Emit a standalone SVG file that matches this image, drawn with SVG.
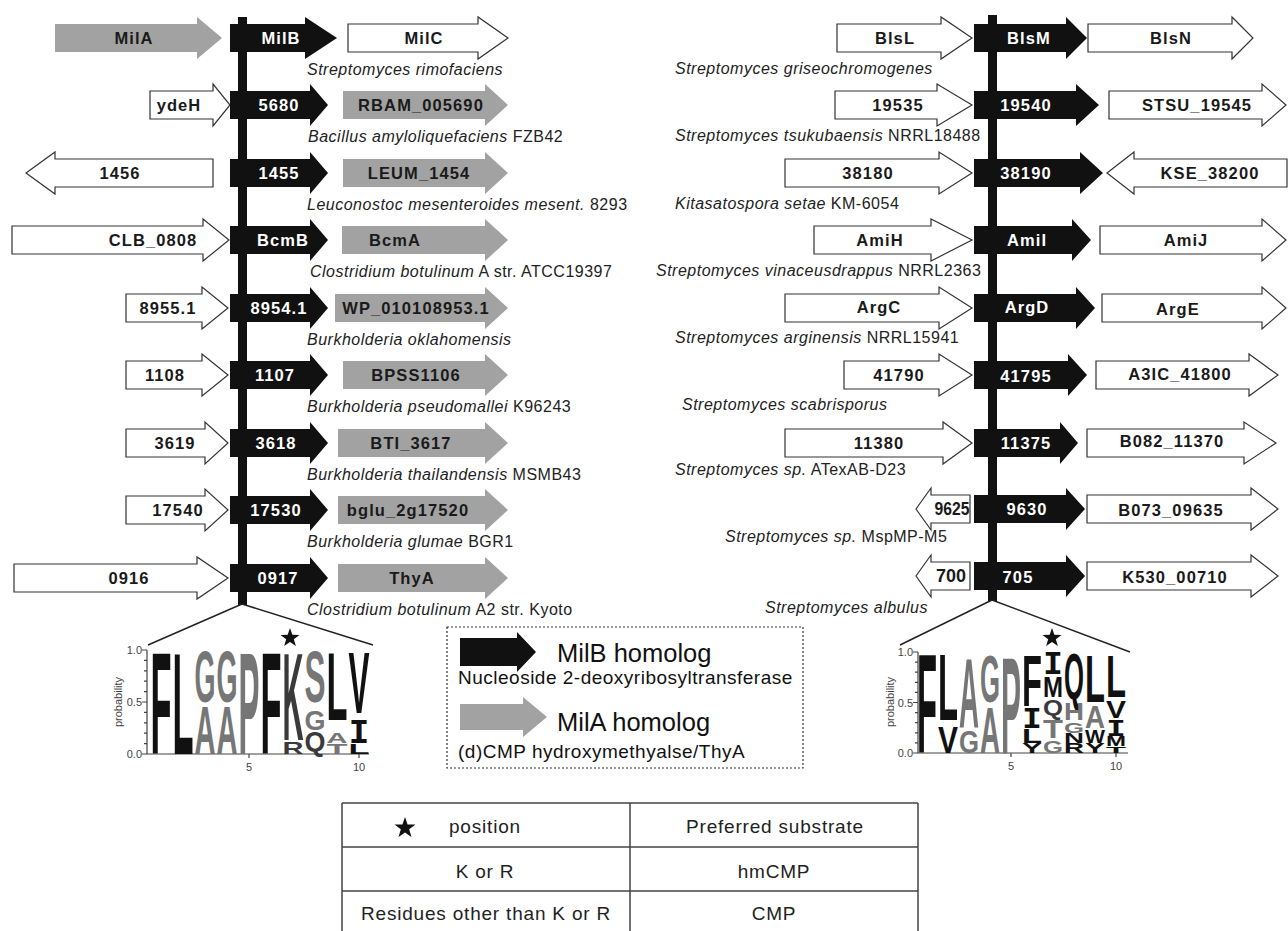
<svg xmlns="http://www.w3.org/2000/svg" width="1288" height="931" viewBox="0 0 1288 931">
<style>
.bk{fill:#111}
.gy{fill:#a2a2a2}
.wh{fill:#fff;stroke:#333;stroke-width:1.2}
.gt{font-family:"Liberation Sans",Arial,sans-serif;font-weight:bold;font-size:16.5px;letter-spacing:1.1px;text-anchor:middle;fill:#1a1a1a}
.gt.w{fill:#fff}
.gt.s{font-size:18px;letter-spacing:0}
.sp{font-family:"Liberation Sans",Arial,sans-serif;font-size:16px;letter-spacing:0.5px;fill:#222}
.it{font-style:italic}
.lg{font-family:"Liberation Sans",Arial,sans-serif;font-weight:bold;text-anchor:middle}
.mono{font-family:"DejaVu Sans Mono",monospace;font-weight:bold;text-anchor:middle}
.k{fill:#111}.g{fill:#767676}.d{fill:#3a3a3a}
.ax{stroke:#444;stroke-width:1.2;fill:none}
.al{font-family:"Liberation Sans",Arial,sans-serif;font-size:11px;fill:#444}
.lt{font-family:"Liberation Sans",Arial,sans-serif;fill:#111}
.tb{font-family:"Liberation Sans",Arial,sans-serif;font-size:19px;letter-spacing:0.8px;fill:#222;text-anchor:middle}
.tb.st{text-anchor:start}
.tl{stroke:#444;stroke-width:1.5}
.cn{stroke:#222;stroke-width:1.5;fill:none}
</style>
<defs>
<polygon id="star" points="0,-1 0.235,-0.324 0.951,-0.309 0.380,0.124 0.588,0.809 0,0.4 -0.588,0.809 -0.380,0.124 -0.951,-0.309 -0.235,-0.324"/>
</defs>
<rect width="1288" height="931" fill="#fff"/>

<g id="connectors">
<rect x="238" y="17" width="9" height="588" class="bk"/>
<rect x="988" y="15" width="9" height="586" class="bk"/>
<path class="cn" d="M242,604 L148,645 M242,604 L373,645"/>
<path class="cn" d="M992,600 L900,645 M992,600 L1130,652"/>
</g>

<!-- LEFT COLUMN -->
<g id="row-l1">
<path class="gy" d="M55,24 H197 V17 L222,38 L197,59 V52 H55 Z"/>
<text class="gt" x="134" y="44">MilA</text>
<path class="bk" d="M230,24 H305 V17 L337,38 L305,59 V52 H230 Z"/>
<text class="gt w" x="281" y="44">MilB</text>
<path class="wh" d="M348,24 H478 V17 L508,38 L478,59 V52 H348 Z"/>
<text class="gt" x="424" y="44">MilC</text>
<text class="sp it" x="307" y="75">Streptomyces rimofaciens</text>
</g>
<g id="row-l2">
<path class="wh" d="M150,91 H213 V84 L230,105 L213,126 V119 H150 Z"/>
<text class="gt" x="179" y="111">ydeH</text>
<path class="bk" d="M230,91 H310 V84 L328,105 L310,126 V119 H230 Z"/>
<text class="gt w" x="279" y="111">5680</text>
<path class="gy" d="M343,91 H485 V84 L508,105 L485,126 V119 H343 Z"/>
<text class="gt" x="421" y="111">RBAM_005690</text>
<text class="sp" x="308" y="142"><tspan class="it">Bacillus amyloliquefaciens</tspan> FZB42</text>
</g>
<g id="row-l3">
<path class="wh" d="M213,159 H55 V152 L26,173 L55,194 V187 H213 Z"/>
<text class="gt" x="120" y="179">1456</text>
<path class="bk" d="M230,159 H310 V152 L328,173 L310,194 V187 H230 Z"/>
<text class="gt w" x="279" y="179">1455</text>
<path class="gy" d="M343,159 H485 V152 L508,173 L485,194 V187 H343 Z"/>
<text class="gt" x="419" y="179">LEUM_1454</text>
<text class="sp" x="307" y="210"><tspan class="it">Leuconostoc mesenteroides mesent.</tspan> 8293</text>
</g>
<g id="row-l4">
<path class="wh" d="M12,226 H203 V219 L229,240 L203,261 V254 H12 Z"/>
<text class="gt" x="153" y="246">CLB_0808</text>
<path class="bk" d="M230,226 H310 V219 L328,240 L310,261 V254 H230 Z"/>
<text class="gt w" x="283" y="246">BcmB</text>
<path class="gy" d="M342,226 H485 V219 L508,240 L485,261 V254 H342 Z"/>
<text class="gt" x="395" y="246">BcmA</text>
<text class="sp" x="310" y="277"><tspan class="it">Clostridium botulinum</tspan> A str. ATCC19397</text>
</g>
<g id="row-l5">
<path class="wh" d="M126,294 H202 V287 L228,308 L202,329 V322 H126 Z"/>
<text class="gt" x="168" y="314">8955.1</text>
<path class="bk" d="M230,294 H310 V287 L328,308 L310,329 V322 H230 Z"/>
<text class="gt w" x="279" y="314">8954.1</text>
<path class="gy" d="M335,294 H485 V287 L508,308 L485,329 V322 H335 Z"/>
<text class="gt" x="416" y="314">WP_010108953.1</text>
<text class="sp it" x="307" y="345">Burkholderia oklahomensis</text>
</g>
<g id="row-l6">
<path class="wh" d="M126,361 H202 V354 L228,375 L202,396 V389 H126 Z"/>
<text class="gt" x="165" y="381">1108</text>
<path class="bk" d="M230,361 H310 V354 L328,375 L310,396 V389 H230 Z"/>
<text class="gt w" x="275" y="381">1107</text>
<path class="gy" d="M343,361 H485 V354 L508,375 L485,396 V389 H343 Z"/>
<text class="gt" x="416" y="381">BPSS1106</text>
<text class="sp" x="307" y="412"><tspan class="it">Burkholderia pseudomallei</tspan> K96243</text>
</g>
<g id="row-l7">
<path class="wh" d="M126,429 H205 V422 L228,443 L205,464 V457 H126 Z"/>
<text class="gt" x="175" y="449">3619</text>
<path class="bk" d="M230,429 H310 V422 L328,443 L310,464 V457 H230 Z"/>
<text class="gt w" x="276" y="449">3618</text>
<path class="gy" d="M338,429 H485 V422 L508,443 L485,464 V457 H338 Z"/>
<text class="gt" x="411" y="449">BTI_3617</text>
<text class="sp" x="307" y="480"><tspan class="it">Burkholderia thailandensis</tspan> MSMB43</text>
</g>
<g id="row-l8">
<path class="wh" d="M126,496 H205 V489 L228,510 L205,531 V524 H126 Z"/>
<text class="gt" x="178" y="516">17540</text>
<path class="bk" d="M230,496 H310 V489 L328,510 L310,531 V524 H230 Z"/>
<text class="gt w" x="276" y="516">17530</text>
<path class="gy" d="M338,496 H485 V489 L508,510 L485,531 V524 H338 Z"/>
<text class="gt" x="408" y="516">bglu_2g17520</text>
<text class="sp" x="307" y="547"><tspan class="it">Burkholderia glumae</tspan> BGR1</text>
</g>
<g id="row-l9">
<path class="wh" d="M14,564 H197 V557 L228,578 L197,599 V592 H14 Z"/>
<text class="gt" x="129" y="584">0916</text>
<path class="bk" d="M230,564 H310 V557 L328,578 L310,599 V592 H230 Z"/>
<text class="gt w" x="278" y="584">0917</text>
<path class="gy" d="M338,564 H485 V557 L508,578 L485,599 V592 H338 Z"/>
<text class="gt" x="412" y="584">ThyA</text>
<text class="sp" x="307" y="615"><tspan class="it">Clostridium botulinum</tspan> A2 str. Kyoto</text>
</g>

<!-- RIGHT COLUMN -->
<g id="row-r1">
<path class="wh" d="M837,24 H941 V17 L972,38 L941,59 V52 H837 Z"/>
<text class="gt" x="895" y="44">BlsL</text>
<path class="bk" d="M974,24 H1066 V17 L1087,38 L1066,59 V52 H974 Z"/>
<text class="gt w" x="1029" y="44">BlsM</text>
<path class="wh" d="M1088,24 H1232 V17 L1253,38 L1232,59 V52 H1088 Z"/>
<text class="gt" x="1171" y="44">BlsN</text>
<text class="sp it" x="675" y="74">Streptomyces griseochromogenes</text>
</g>
<g id="row-r2">
<path class="wh" d="M835,91 H937 V84 L972,105 L937,126 V119 H835 Z"/>
<text class="gt" x="898" y="111">19535</text>
<path class="bk" d="M974,91 H1076 V84 L1099,105 L1076,126 V119 H974 Z"/>
<text class="gt w" x="1026" y="111">19540</text>
<path class="wh" d="M1109,91 H1262 V84 L1286,105 L1262,126 V119 H1109 Z"/>
<text class="gt" x="1197" y="111">STSU_19545</text>
<text class="sp" x="675" y="141"><tspan class="it">Streptomyces tsukubaensis</tspan> NRRL18488</text>
</g>
<g id="row-r3">
<path class="wh" d="M785,159 H939 V152 L972,173 L939,194 V187 H785 Z"/>
<text class="gt" x="868" y="179">38180</text>
<path class="bk" d="M974,159 H1080 V152 L1103,173 L1080,194 V187 H974 Z"/>
<text class="gt w" x="1026" y="179">38190</text>
<path class="wh" d="M1287,159 H1134 V152 L1107,173 L1134,194 V187 H1287 Z"/>
<text class="gt" x="1210" y="179">KSE_38200</text>
<text class="sp" x="675" y="209"><tspan class="it">Kitasatospora setae</tspan> KM-6054</text>
</g>
<g id="row-r4">
<path class="wh" d="M814,226 H931 V219 L972,240 L931,261 V254 H814 Z"/>
<text class="gt" x="880" y="246">AmiH</text>
<path class="bk" d="M974,226 H1072 V219 L1091,240 L1072,261 V254 H974 Z"/>
<text class="gt w" x="1027" y="246">AmiI</text>
<path class="wh" d="M1100,226 H1262 V219 L1286,240 L1262,261 V254 H1100 Z"/>
<text class="gt" x="1186" y="246">AmiJ</text>
<text class="sp" x="656" y="276"><tspan class="it">Streptomyces vinaceusdrappus</tspan> NRRL2363</text>
</g>
<g id="row-r5">
<path class="wh" d="M785,294 H939 V287 L972,308 L939,329 V322 H785 Z"/>
<text class="gt" x="879" y="313">ArgC</text>
<path class="bk" d="M974,294 H1076 V287 L1095,308 L1076,329 V322 H974 Z"/>
<text class="gt w" x="1027" y="313">ArgD</text>
<path class="wh" d="M1102,294 H1262 V287 L1286,308 L1262,329 V322 H1102 Z"/>
<text class="gt" x="1178" y="315">ArgE</text>
<text class="sp" x="675" y="343"><tspan class="it">Streptomyces arginensis</tspan> NRRL15941</text>
</g>
<g id="row-r6">
<path class="wh" d="M844,361 H939 V354 L972,375 L939,396 V389 H844 Z"/>
<text class="gt" x="899" y="381">41790</text>
<path class="bk" d="M974,361 H1068 V354 L1087,375 L1068,396 V389 H974 Z"/>
<text class="gt w" x="1026" y="382">41795</text>
<path class="wh" d="M1096,361 H1249 V354 L1278,375 L1249,396 V389 H1096 Z"/>
<text class="gt" x="1180" y="380">A3IC_41800</text>
<text class="sp it" x="682" y="410">Streptomyces scabrisporus</text>
</g>
<g id="row-r7">
<path class="wh" d="M785,429 H943 V422 L972,443 L943,464 V457 H785 Z"/>
<text class="gt" x="879" y="449">11380</text>
<path class="bk" d="M974,429 H1060 V422 L1078,443 L1060,464 V457 H974 Z"/>
<text class="gt w" x="1026" y="449">11375</text>
<path class="wh" d="M1087,429 H1244 V422 L1276,443 L1244,464 V457 H1087 Z"/>
<text class="gt" x="1172" y="447">B082_11370</text>
<text class="sp" x="675" y="475"><tspan class="it">Streptomyces sp.</tspan> ATexAB-D23</text>
</g>
<g id="row-r8">
<path class="wh" d="M970,495 H931 V488 L916,509 L931,530 V523 H970 Z"/>
<text class="gt s" x="952" y="515" textLength="35" lengthAdjust="spacingAndGlyphs">9625</text>
<path class="bk" d="M974,495 H1066 V488 L1085,509 L1066,530 V523 H974 Z"/>
<text class="gt w" x="1027" y="515">9630</text>
<path class="wh" d="M1087,495 H1251 V488 L1278,509 L1251,530 V523 H1087 Z"/>
<text class="gt" x="1171" y="516">B073_09635</text>
<text class="sp" x="725" y="542"><tspan class="it">Streptomyces sp.</tspan> MspMP-M5</text>
</g>
<g id="row-r9">
<path class="wh" d="M970,562 H931 V555 L916,576 L931,597 V590 H970 Z"/>
<text class="gt s" x="951" y="582" textLength="30" lengthAdjust="spacingAndGlyphs">700</text>
<path class="bk" d="M974,562 H1066 V555 L1085,576 L1066,597 V590 H974 Z"/>
<text class="gt w" x="1018" y="583">705</text>
<path class="wh" d="M1087,562 H1251 V555 L1278,576 L1251,597 V590 H1087 Z"/>
<text class="gt" x="1175" y="583">K530_00710</text>
<text class="sp it" x="765" y="613">Streptomyces albulus</text>
</g>

<!-- LEFT LOGO -->
<g id="logo-left">
<path class="ax" d="M147,650 V754 H369"/>
<path class="ax" d="M142,650 H147 M144,660.4 H147 M144,670.8 H147 M144,681.2 H147 M144,691.6 H147 M142,702 H147 M144,712.4 H147 M144,722.8 H147 M144,733.2 H147 M144,743.6 H147 M142,754 H147 M249,754 V758 M359,754 V758"/>
<text class="al" x="142" y="654" text-anchor="end">1.0</text>
<text class="al" x="142" y="706" text-anchor="end">0.5</text>
<text class="al" x="142" y="758" text-anchor="end">0.0</text>
<text class="al" x="249" y="771" text-anchor="middle">5</text>
<text class="al" x="359" y="771" text-anchor="middle">10</text>
<text class="al" x="0" y="0" text-anchor="middle" font-size="13" transform="translate(122,702) rotate(-90)">probability</text>
<text class="lg k" x="161" y="754" font-size="145" textLength="21" lengthAdjust="spacingAndGlyphs">F</text>
<text class="lg k" x="183" y="754" font-size="145" textLength="21" lengthAdjust="spacingAndGlyphs">L</text>
<text class="lg g" x="205" y="702" font-size="72" textLength="21" lengthAdjust="spacingAndGlyphs">G</text>
<text class="lg g" x="205" y="754" font-size="68" textLength="21" lengthAdjust="spacingAndGlyphs">A</text>
<text class="lg g" x="227" y="702" font-size="72" textLength="21" lengthAdjust="spacingAndGlyphs">G</text>
<text class="lg g" x="227" y="754" font-size="68" textLength="21" lengthAdjust="spacingAndGlyphs">A</text>
<text class="lg g" x="249" y="754" font-size="145" textLength="21" lengthAdjust="spacingAndGlyphs">P</text>
<text class="lg k" x="271" y="754" font-size="145" textLength="21" lengthAdjust="spacingAndGlyphs">F</text>
<text class="lg d" x="293" y="740" font-size="125" textLength="21" lengthAdjust="spacingAndGlyphs">K</text>
<text class="lg d" x="293" y="754" font-size="17" textLength="21" lengthAdjust="spacingAndGlyphs">R</text>
<text class="lg g" x="315" y="702" font-size="73" textLength="21" lengthAdjust="spacingAndGlyphs">S</text>
<text class="lg g" x="315" y="730" font-size="28" textLength="21" lengthAdjust="spacingAndGlyphs">G</text>
<text class="lg d" x="315" y="751" font-size="27" textLength="21" lengthAdjust="spacingAndGlyphs">Q</text>
<text class="lg k" x="337" y="720" font-size="97" textLength="21" lengthAdjust="spacingAndGlyphs">L</text>
<text class="lg g" x="337" y="743" font-size="15.5" textLength="21" lengthAdjust="spacingAndGlyphs">A</text>
<text class="lg g" x="337" y="754" font-size="14.5" textLength="21" lengthAdjust="spacingAndGlyphs">T</text>
<text class="lg k" x="359" y="713" font-size="88" textLength="21" lengthAdjust="spacingAndGlyphs">V</text>
<text class="mono k" x="359" y="743" font-size="32" textLength="21" lengthAdjust="spacingAndGlyphs">I</text>
<text class="lg k" x="359" y="754" font-size="14.5" textLength="21" lengthAdjust="spacingAndGlyphs">L</text>
<use href="#star" class="k" transform="translate(290,638) scale(10)"/>
</g>

<!-- RIGHT LOGO -->
<g id="logo-right">
<path class="ax" d="M918,652 V753 H1128"/>
<path class="ax" d="M913,652 H918 M915,662.1 H918 M915,672.2 H918 M915,682.3 H918 M915,692.4 H918 M913,702.5 H918 M915,712.6 H918 M915,722.7 H918 M915,732.8 H918 M915,742.9 H918 M913,753 H918 M1011,753 V757 M1116,753 V757"/>
<text class="al" x="913" y="656" text-anchor="end">1.0</text>
<text class="al" x="913" y="707" text-anchor="end">0.5</text>
<text class="al" x="913" y="757" text-anchor="end">0.0</text>
<text class="al" x="1011" y="770" text-anchor="middle">5</text>
<text class="al" x="1116" y="770" text-anchor="middle">10</text>
<text class="al" x="0" y="0" text-anchor="middle" font-size="13" transform="translate(894,702) rotate(-90)">probability</text>
<text class="lg k" x="927" y="753" font-size="141" textLength="20" lengthAdjust="spacingAndGlyphs">F</text>
<text class="lg k" x="948" y="720" font-size="94" textLength="20" lengthAdjust="spacingAndGlyphs">L</text>
<text class="lg k" x="948" y="753" font-size="36.7" textLength="20" lengthAdjust="spacingAndGlyphs">V</text>
<text class="lg g" x="969" y="727" font-size="98" textLength="20" lengthAdjust="spacingAndGlyphs">A</text>
<text class="lg g" x="969" y="753" font-size="32" textLength="20" lengthAdjust="spacingAndGlyphs">G</text>
<text class="lg g" x="990" y="702" font-size="67" textLength="20" lengthAdjust="spacingAndGlyphs">G</text>
<text class="lg g" x="990" y="753" font-size="65" textLength="20" lengthAdjust="spacingAndGlyphs">A</text>
<text class="lg g" x="1011" y="753" font-size="138" textLength="20" lengthAdjust="spacingAndGlyphs">P</text>
<text class="lg k" x="1032" y="706" font-size="73" textLength="20" lengthAdjust="spacingAndGlyphs">F</text>
<text class="mono k" x="1032" y="728" font-size="26" textLength="20" lengthAdjust="spacingAndGlyphs">I</text>
<text class="lg k" x="1032" y="743" font-size="19.7" textLength="20" lengthAdjust="spacingAndGlyphs">L</text>
<text class="lg k" x="1032" y="753" font-size="14" textLength="20" lengthAdjust="spacingAndGlyphs">Y</text>
<text class="mono k" x="1053" y="674" font-size="30" textLength="20" lengthAdjust="spacingAndGlyphs">I</text>
<text class="lg k" x="1053" y="697" font-size="29.7" textLength="20" lengthAdjust="spacingAndGlyphs">M</text>
<text class="lg d" x="1053" y="715" font-size="22.5" textLength="20" lengthAdjust="spacingAndGlyphs">Q</text>
<text class="lg g" x="1053" y="738" font-size="25" textLength="20" lengthAdjust="spacingAndGlyphs">T</text>
<text class="lg g" x="1053" y="753" font-size="17" textLength="20" lengthAdjust="spacingAndGlyphs">G</text>
<text class="lg k" x="1074" y="699" font-size="64" textLength="20" lengthAdjust="spacingAndGlyphs">Q</text>
<text class="lg g" x="1074" y="720" font-size="24" textLength="20" lengthAdjust="spacingAndGlyphs">H</text>
<text class="lg g" x="1074" y="733" font-size="14" textLength="20" lengthAdjust="spacingAndGlyphs">G</text>
<text class="lg k" x="1074" y="743" font-size="14" textLength="20" lengthAdjust="spacingAndGlyphs">N</text>
<text class="lg k" x="1074" y="753" font-size="14" textLength="20" lengthAdjust="spacingAndGlyphs">R</text>
<text class="lg k" x="1095" y="702" font-size="67" textLength="20" lengthAdjust="spacingAndGlyphs">L</text>
<text class="lg g" x="1095" y="728" font-size="32" textLength="20" lengthAdjust="spacingAndGlyphs">A</text>
<text class="lg k" x="1095" y="743" font-size="18" textLength="20" lengthAdjust="spacingAndGlyphs">W</text>
<text class="lg k" x="1095" y="753" font-size="14" textLength="20" lengthAdjust="spacingAndGlyphs">Y</text>
<text class="lg k" x="1116" y="697" font-size="60" textLength="20" lengthAdjust="spacingAndGlyphs">L</text>
<text class="lg k" x="1116" y="718" font-size="24" textLength="20" lengthAdjust="spacingAndGlyphs">V</text>
<text class="mono k" x="1116" y="736" font-size="22" textLength="20" lengthAdjust="spacingAndGlyphs">I</text>
<text class="lg k" x="1116" y="746" font-size="14" textLength="20" lengthAdjust="spacingAndGlyphs">M</text>
<text class="lg k" x="1116" y="753" font-size="9.9" textLength="20" lengthAdjust="spacingAndGlyphs">T</text>
<use href="#star" class="k" transform="translate(1052,638) scale(10)"/>
</g>

<!-- LEGEND -->
<g id="legend">
<rect x="447" y="627" width="356" height="141" fill="none" stroke="#333" stroke-width="1.2" stroke-dasharray="2 2"/>
<path class="bk" d="M460,638 H517 V632 L536,652 L517,672 V666 H460 Z"/>
<text class="lt" x="557" y="662" font-size="25.5">MilB homolog</text>
<text class="lt" x="458" y="684" font-size="19" letter-spacing="0.5">Nucleoside 2-deoxyribosyltransferase</text>
<path class="gy" d="M460,704 H523 V697 L547,717 L523,737 V730 H460 Z"/>
<text class="lt" x="557" y="731" font-size="25.5">MilA homolog</text>
<text class="lt" x="458" y="758" font-size="19" letter-spacing="0.5">(d)CMP hydroxymethyalse/ThyA</text>
</g>

<!-- TABLE -->
<g id="table">
<path class="tl" d="M342,803 H918 M342,847 H918 M342,891 H918 M342,803 V931 M630,803 V931 M918,803 V931"/>
<use href="#star" fill="#111" transform="translate(405,828) scale(11)"/>
<text class="tb st" x="449" y="833">position</text>
<text class="tb" x="775" y="833">Preferred substrate</text>
<text class="tb" x="485" y="878">K or R</text>
<text class="tb" x="774" y="878">hmCMP</text>
<text class="tb" x="486" y="920">Residues other than K or R</text>
<text class="tb" x="774" y="920">CMP</text>
</g>
</svg>
